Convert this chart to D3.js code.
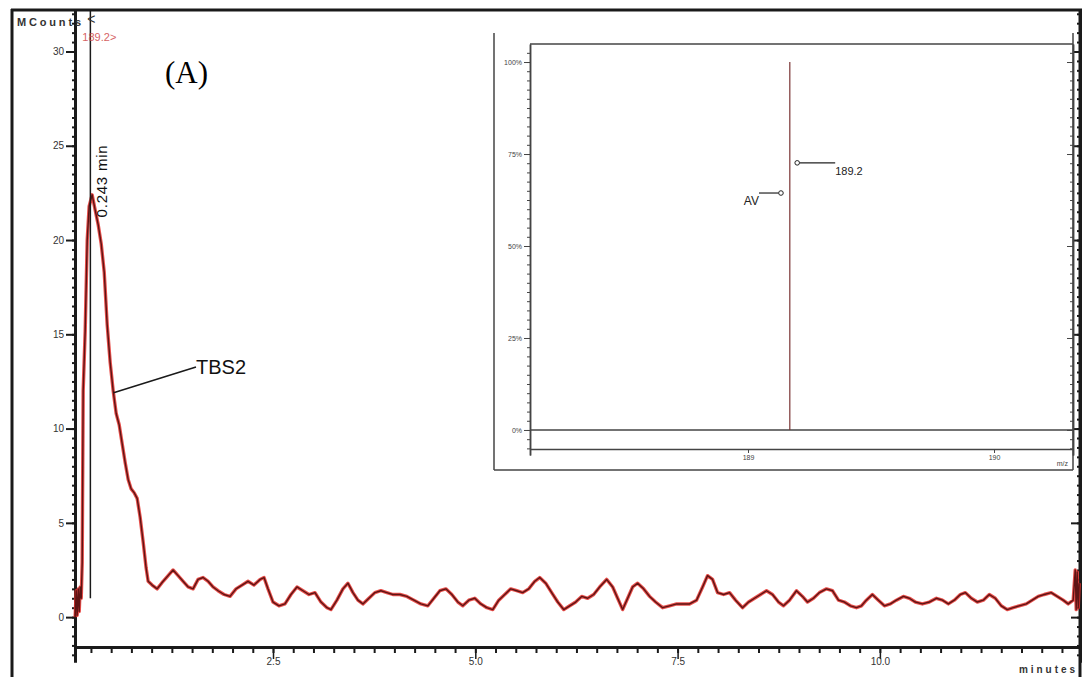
<!DOCTYPE html>
<html>
<head>
<meta charset="utf-8">
<script src="https://cdn.jsdelivr.net/npm/d3@7"></script>
<style>
  body { margin: 0; background: #fff; }
  svg { display: block; font-family: "Liberation Sans", Arial, sans-serif; }
</style>
</head>
<body>
<svg id="chart" width="1084" height="677"></svg>
<script>
// ---- Chromatogram (total counts vs. retention time) ----
const timeMin = [
  0.055, 0.068, 0.080, 0.093, 0.105, 0.117, 0.130, 0.142, 0.154, 0.179, 0.204, 0.228, 0.265,
  0.302, 0.340, 0.377, 0.414, 0.451, 0.488, 0.525, 0.562, 0.599, 0.636, 0.673, 0.710, 0.747,
  0.784, 0.821, 0.858, 0.895, 0.932, 0.957, 1.006, 1.068, 1.142, 1.204, 1.265, 1.327, 1.389,
  1.451, 1.512, 1.574, 1.636, 1.698, 1.759, 1.821, 1.895, 1.969, 2.043, 2.117, 2.191, 2.265,
  2.340, 2.389, 2.438, 2.500, 2.574, 2.648, 2.722, 2.796, 2.870, 2.944, 3.019, 3.093, 3.167,
  3.216, 3.290, 3.364, 3.426, 3.488, 3.549, 3.611, 3.685, 3.759, 3.833, 3.907, 3.981, 4.068,
  4.154, 4.241, 4.327, 4.414, 4.488, 4.562, 4.636, 4.710, 4.784, 4.846, 4.920, 4.994, 5.068,
  5.142, 5.216, 5.290, 5.364, 5.438, 5.512, 5.586, 5.660, 5.735, 5.796, 5.870, 5.944, 6.019,
  6.093, 6.167, 6.241, 6.315, 6.389, 6.463, 6.537, 6.623, 6.698, 6.759, 6.821, 6.883, 6.944,
  7.006, 7.080, 7.154, 7.228, 7.315, 7.401, 7.488, 7.574, 7.648, 7.735, 7.809, 7.870, 7.932,
  7.994, 8.068, 8.142, 8.216, 8.302, 8.377, 8.451, 8.525, 8.599, 8.673, 8.747, 8.809, 8.883,
  8.969, 9.043, 9.105, 9.179, 9.253, 9.340, 9.414, 9.488, 9.562, 9.636, 9.710, 9.772, 9.833,
  9.907, 9.981, 10.056, 10.130, 10.204, 10.290, 10.364, 10.438, 10.525, 10.611, 10.698, 10.772,
  10.846, 10.920, 10.994, 11.056, 11.130, 11.204, 11.278, 11.352, 11.426, 11.500, 11.574,
  11.648, 11.722, 11.809, 11.883, 11.957, 12.031, 12.117, 12.191, 12.265, 12.327, 12.389,
  12.414, 12.426, 12.438, 12.451, 12.463
];
const mCounts = [
  0.0, 1.4, 0.1, 1.5, 0.3, 1.6, 1.0, 2.9, 12.0, 15.2, 20.0, 21.8, 22.4,
  21.6, 20.8, 19.8, 18.3, 15.5, 13.5, 12.0, 10.8, 10.2, 9.2, 8.2, 7.3, 6.8,
  6.6, 6.3, 5.3, 4.0, 2.6, 1.9, 1.7, 1.5, 1.9, 2.2, 2.5, 2.2, 1.9,
  1.6, 1.5, 2.0, 2.1, 1.9, 1.6, 1.4, 1.2, 1.1, 1.5, 1.7, 1.9, 1.7,
  2.0, 2.1, 1.5, 0.8, 0.6, 0.7, 1.2, 1.6, 1.4, 1.2, 1.3, 0.8, 0.5,
  0.4, 0.9, 1.5, 1.8, 1.3, 0.9, 0.7, 1.0, 1.3, 1.4, 1.3, 1.2, 1.2,
  1.1, 0.9, 0.7, 0.6, 1.0, 1.4, 1.5, 1.2, 0.8, 0.6, 0.9, 1.0, 0.7,
  0.5, 0.4, 0.9, 1.2, 1.5, 1.4, 1.3, 1.5, 1.9, 2.1, 1.8, 1.3, 0.8,
  0.4, 0.6, 0.8, 1.1, 1.0, 1.2, 1.6, 2.0, 1.6, 1.0, 0.4, 1.0, 1.6,
  1.8, 1.5, 1.1, 0.8, 0.5, 0.6, 0.7, 0.7, 0.7, 0.9, 1.6, 2.2, 2.0,
  1.3, 1.2, 1.3, 0.9, 0.5, 0.8, 1.0, 1.2, 1.4, 1.2, 0.8, 0.6, 0.9,
  1.4, 1.1, 0.8, 1.0, 1.3, 1.5, 1.4, 0.9, 0.8, 0.6, 0.5, 0.6, 0.9,
  1.2, 0.9, 0.6, 0.7, 0.9, 1.1, 1.0, 0.8, 0.7, 0.8, 1.0, 0.9,
  0.7, 0.9, 1.2, 1.3, 1.0, 0.8, 0.9, 1.2, 1.0, 0.6, 0.4,
  0.5, 0.6, 0.7, 0.9, 1.1, 1.2, 1.3, 1.1, 0.9, 0.7, 0.9,
  2.5, 0.4, 2.4, 0.5, 1.8
];
const countTicks = [0, 5, 10, 15, 20, 25, 30];
const timeTicks = [2.5, 5.0, 7.5, 10.0];
const peakTime = 0.243;          // retention time of the marked peak
const peakName = "TBS2";
const ionLabel = "189.2>";
const panelTag = "(A)";

// ---- Mass spectrum at the peak apex ----
const specMz = [189.17];
const specPct = [100];
const pctTicks = [0, 25, 50, 75, 100];
const mzTicks = [189, 190];
const cursorNames = ["", "AV"];
const cursorMz = [189.2, 189.134];
const cursorPct = [72.6, 64.4];

const svg = d3.select("#chart");
const ink = "#1a1a1a";
const tickFont = "10px";

// ---------- main chromatogram frame ----------
const x = d3.scaleLinear().domain([0.053, 12.473]).range([75, 1080]);
const y = d3.scaleLinear().domain([-2.38, 32.2]).range([662, 10]);
const xAxisY = 647;

// outer border (left and top edges)
svg.append("line").attr("x1", 12).attr("x2", 12).attr("y1", 9).attr("y2", 677)
  .attr("stroke", ink).attr("stroke-width", 3);
svg.append("line").attr("x1", 11).attr("x2", 1082).attr("y1", 10).attr("y2", 10)
  .attr("stroke", ink).attr("stroke-width", 3);

function styleAxis(g, w) {
  g.select(".domain").attr("stroke", ink).attr("stroke-width", w);
  g.selectAll(".tick line").attr("stroke", ink).attr("stroke-width", 2);
  g.selectAll(".tick text").attr("fill", "#333").style("font-size", tickFont)
    .style("font-family", "'Liberation Sans', Arial, sans-serif");
}

// left axis: minor ticks then labelled majors
const yMinor = svg.append("g").attr("transform", "translate(75,0)")
  .call(d3.axisLeft(y).tickValues(d3.range(-2, 32.1, 0.5)).tickSize(3).tickSizeOuter(0).tickFormat(""));
styleAxis(yMinor, 3);
const yMajor = svg.append("g").attr("transform", "translate(75,0)")
  .call(d3.axisLeft(y).tickValues(countTicks).tickSize(9).tickSizeOuter(0).tickPadding(2).tickFormat(d3.format("d")));
styleAxis(yMajor, 3);

// right edge: mirrored ticks, no labels
svg.append("line").attr("x1", 1080).attr("x2", 1080).attr("y1", 9).attr("y2", 677)
  .attr("stroke", ink).attr("stroke-width", 3);
const rMinor = svg.append("g").attr("transform", "translate(1080,0)")
  .call(d3.axisLeft(y).tickValues(d3.range(-2, 32.1, 0.5)).tickSize(3).tickSizeOuter(0).tickFormat(""));
styleAxis(rMinor, 3);
const rMajor = svg.append("g").attr("transform", "translate(1080,0)")
  .call(d3.axisLeft(y).tickValues(countTicks).tickSize(9).tickSizeOuter(0).tickFormat(""));
styleAxis(rMajor, 3);

// bottom axis
const xMinor = svg.append("g").attr("transform", `translate(0,${xAxisY})`)
  .call(d3.axisBottom(x).tickValues(d3.range(0.25, 12.45, 0.25)).tickSize(6).tickSizeOuter(0).tickFormat(""));
styleAxis(xMinor, 3);
const xMajor = svg.append("g").attr("transform", `translate(0,${xAxisY})`)
  .call(d3.axisBottom(x).tickValues(timeTicks).tickSize(12).tickSizeOuter(0).tickPadding(-1).tickFormat(d3.format(".1f")));
styleAxis(xMajor, 3);
xMajor.selectAll(".tick line").attr("stroke-width", 1.5);

// unit labels
svg.append("text").attr("x", 17).attr("y", 26).text("MCounts")
  .attr("fill", "#333").style("font-size", "11px").style("font-weight", "bold")
  .attr("textLength", 64);
svg.append("text").attr("x", 1075).attr("y", 673).attr("text-anchor", "end").text("minutes")
  .attr("fill", "#333").style("font-size", "10px").style("font-weight", "bold")
  .attr("textLength", 56);

// ---------- trace ----------
const trace = timeMin.map((t, i) => [t, mCounts[i]]);
const line = d3.line().x(d => x(d[0])).y(d => y(d[1]));
svg.append("path").datum(trace).attr("d", line)
  .attr("fill", "none").attr("stroke", "#e3302b").attr("stroke-width", 3.4)
  .attr("stroke-linejoin", "round").attr("opacity", 0.85);
svg.append("path").datum(trace).attr("d", line)
  .attr("fill", "none").attr("stroke", "#5e1414").attr("stroke-width", 1.4)
  .attr("stroke-linejoin", "round");

// retention time marker
const px = x(peakTime);
svg.append("line").attr("x1", px).attr("x2", px).attr("y1", 11).attr("y2", y(1))
  .attr("stroke", ink).attr("stroke-width", 1.5);
svg.append("text").attr("x", px - 3).attr("y", 24).text("<")
  .attr("fill", "#333").style("font-size", "14px");
svg.append("text").attr("x", px - 8).attr("y", 41).text(ionLabel)
  .attr("fill", "#d0484a").style("font-size", "11px").attr("opacity", 0.85);
svg.append("text")
  .attr("transform", `translate(${px + 17},${y(21.2)}) rotate(-90)`)
  .text(`${peakTime} min`).attr("fill", "#111").style("font-size", "15px")
  .attr("textLength", 72);

// peak name with leader line
svg.append("line").attr("x1", x(0.53)).attr("y1", y(11.9)).attr("x2", 196).attr("y2", 367)
  .attr("stroke", ink).attr("stroke-width", 1.5);
svg.append("text").attr("x", 196).attr("y", 374).text(peakName)
  .attr("fill", "#111").style("font-size", "20px");

// panel tag
svg.append("text").attr("x", 165).attr("y", 83).text(panelTag)
  .attr("fill", "#000").style("font-family", "'Liberation Serif', 'Times New Roman', serif")
  .style("font-size", "31px");

// ---------- inset mass spectrum ----------
const xi = d3.scaleLinear().domain([188.114, 190.321]).range([530, 1073]);
const yi = d3.scaleLinear().domain([-6.8, 104.9]).range([455, 44]);
const frame = "#444";

const inset = svg.append("g");
inset.append("rect").attr("x", 494).attr("y", 33).attr("width", 579).attr("height", 437)
  .attr("fill", "#fff").attr("stroke", "none");
inset.append("line").attr("x1", 494).attr("x2", 494).attr("y1", 33).attr("y2", 470)
  .attr("stroke", frame).attr("stroke-width", 1.5);
inset.append("line").attr("x1", 494).attr("x2", 1073).attr("y1", 470).attr("y2", 470)
  .attr("stroke", frame).attr("stroke-width", 1.5);
inset.append("line").attr("x1", 1073).attr("x2", 1073).attr("y1", 33).attr("y2", 470)
  .attr("stroke", frame).attr("stroke-width", 1.5);
inset.append("line").attr("x1", 530).attr("x2", 1073).attr("y1", yi(104.9)).attr("y2", yi(104.9))
  .attr("stroke", frame).attr("stroke-width", 1.5);
inset.append("line").attr("x1", 530).attr("x2", 1073).attr("y1", yi(0)).attr("y2", yi(0))
  .attr("stroke", frame).attr("stroke-width", 1.5);

function styleInset(g) {
  g.select(".domain").attr("stroke", frame).attr("stroke-width", 1.5);
  g.selectAll(".tick line").attr("stroke", frame).attr("stroke-width", 1);
  g.selectAll(".tick text").attr("fill", "#444").style("font-size", "7px")
    .style("font-family", "'Liberation Sans', Arial, sans-serif");
}
const iyMinor = inset.append("g").attr("transform", "translate(530,0)")
  .call(d3.axisLeft(yi).tickValues(d3.range(-5, 104, 2.5)).tickSize(3).tickSizeOuter(0).tickFormat(""));
styleInset(iyMinor);
const iyMajor = inset.append("g").attr("transform", "translate(530,0)")
  .call(d3.axisLeft(yi).tickValues(pctTicks).tickSize(6).tickSizeOuter(0).tickPadding(2).tickFormat(d => d + "%"));
styleInset(iyMajor);
const irMinor = inset.append("g").attr("transform", "translate(1073,0)")
  .call(d3.axisLeft(yi).tickValues(d3.range(-5, 104, 2.5)).tickSize(3).tickSizeOuter(0).tickFormat(""));
styleInset(irMinor);
const irMajor = inset.append("g").attr("transform", "translate(1073,0)")
  .call(d3.axisLeft(yi).tickValues(pctTicks).tickSize(6).tickSizeOuter(0).tickFormat(""));
styleInset(irMajor);
const ix = inset.append("g").attr("transform", "translate(0,449)")
  .call(d3.axisBottom(xi).tickValues(mzTicks).tickSize(4).tickSizeOuter(0).tickPadding(2).tickFormat(d3.format("d")));
styleInset(ix);
inset.append("text").attr("x", 1068).attr("y", 466).attr("text-anchor", "end").text("m/z")
  .attr("fill", "#444").style("font-size", "7px");

// spectrum sticks
inset.selectAll(".stick").data(specMz).join("line").attr("class", "stick")
  .attr("x1", d => xi(d)).attr("x2", d => xi(d))
  .attr("y1", yi(0)).attr("y2", (d, i) => yi(specPct[i]))
  .attr("stroke", "#7a3434").attr("stroke-width", 1.2);

// cursor annotations
const fmtMz = d3.format(".1f");
cursorMz.forEach((m, i) => {
  const cx = xi(m), cy = yi(cursorPct[i]);
  inset.append("circle").attr("cx", cx).attr("cy", cy).attr("r", 2.3)
    .attr("fill", "#fff").attr("stroke", "#222").attr("stroke-width", 1);
  if (i === 0) {
    inset.append("line").attr("x1", cx + 2.5).attr("x2", cx + 38).attr("y1", cy).attr("y2", cy)
      .attr("stroke", "#222").attr("stroke-width", 1.2);
    inset.append("text").attr("x", cx + 38).attr("y", cy + 12).text(fmtMz(specMz[0]))
      .attr("fill", "#222").style("font-size", "11px");
  } else {
    inset.append("line").attr("x1", cx - 2.5).attr("x2", cx - 22).attr("y1", cy).attr("y2", cy)
      .attr("stroke", "#222").attr("stroke-width", 1.2);
    inset.append("text").attr("x", cx - 22).attr("y", cy + 12).attr("text-anchor", "end")
      .text(cursorNames[i]).attr("fill", "#222").style("font-size", "12px");
  }
});
</script>
</body>
</html>
